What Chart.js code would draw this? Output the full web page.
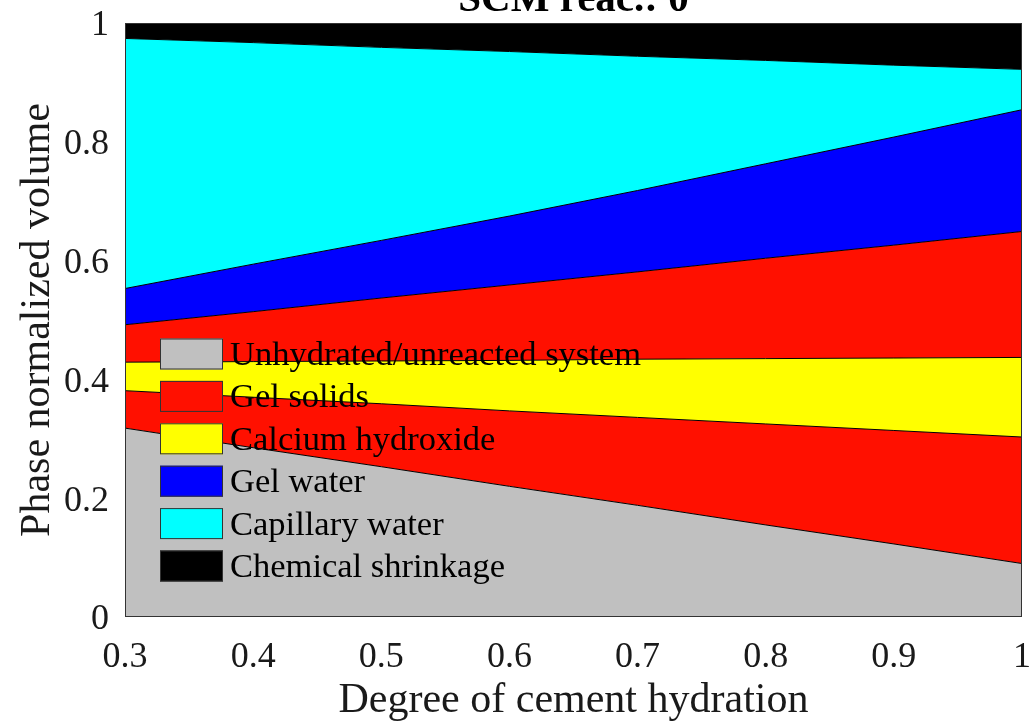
<!DOCTYPE html>
<html><head><meta charset="utf-8">
<script src="https://cdn.jsdelivr.net/npm/chart.js@4.4.1/dist/chart.umd.min.js"></script>
<style>html,body{margin:0;padding:0;background:#fff;overflow:hidden}canvas{display:block}</style>
</head><body>
<canvas id="c" width="1036" height="722"></canvas>
<script>
// ---- data (layer thickness, stacked) ----
const hydration = [0.3, 0.4, 0.5, 0.6, 0.7, 0.8, 0.9, 1.0];
const unhydrated        = [0.318, 0.285, 0.253, 0.220, 0.188, 0.155, 0.123, 0.090];
const gelSolidsInner    = [0.063, 0.085, 0.106, 0.127, 0.148, 0.170, 0.191, 0.213];
const calciumHydroxide  = [0.048, 0.060, 0.072, 0.085, 0.098, 0.110, 0.122, 0.134];
const gelSolidsOuter    = [0.063, 0.084, 0.106, 0.127, 0.147, 0.169, 0.190, 0.212];
const gelWater          = [0.061, 0.080, 0.097, 0.116, 0.137, 0.159, 0.182, 0.205];
const capillaryWater    = [0.421, 0.373, 0.325, 0.277, 0.226, 0.174, 0.121, 0.068];
const chemicalShrinkage = [0.026, 0.033, 0.041, 0.048, 0.056, 0.063, 0.071, 0.078];
const xTickValues = [0.3, 0.4, 0.5, 0.6, 0.7, 0.8, 0.9, 1];
const yTickValues = [0, 0.2, 0.4, 0.6, 0.8, 1];
const legendLabels = ['Unhydrated/unreacted system', 'Gel solids', 'Calcium hydroxide', 'Gel water', 'Capillary water', 'Chemical shrinkage'];
const titleText = 'SCM reac.: 0';
const xTitle = 'Degree of cement hydration';
const yTitle = 'Phase normalized volume';

// ---- styles ----
const FONT = '"Liberation Serif", "Times New Roman", serif';
const layers = [
  { label: 'Unhydrated/unreacted system', values: unhydrated, color: '#c0c0c0' },
  { label: 'Gel solids', values: gelSolidsInner, color: '#ff1000' },
  { label: 'Calcium hydroxide', values: calciumHydroxide, color: '#ffff00' },
  { label: 'Gel solids', values: gelSolidsOuter, color: '#ff1000' },
  { label: 'Gel water', values: gelWater, color: '#0000ff' },
  { label: 'Capillary water', values: capillaryWater, color: '#00ffff' },
  { label: 'Chemical shrinkage', values: chemicalShrinkage, color: '#000000' }
];
const legendColors = { 'Unhydrated/unreacted system': '#c0c0c0', 'Gel solids': '#ff1000', 'Calcium hydroxide': '#ffff00', 'Gel water': '#0000ff', 'Capillary water': '#00ffff', 'Chemical shrinkage': '#000000' };

const datasets = layers.map((l, i) => ({
  label: l.label,
  data: hydration.map((x, j) => ({ x: x, y: l.values[j] })),
  fill: i === 0 ? 'origin' : '-1',
  backgroundColor: l.color,
  borderColor: '#000',
  borderWidth: 1,
  pointRadius: 0,
  tension: 0
}));

const fmt = v => (Math.abs(v - Math.round(v)) < 1e-9 ? String(Math.round(v)) : v.toFixed(1));

const overlay = {
  id: 'overlay',
  afterDatasetsDraw(chart) {
    const ctx = chart.ctx, a = chart.chartArea;
    ctx.save();
    ctx.strokeStyle = '#333';
    ctx.lineWidth = 1;
    ctx.strokeRect(a.left + 0.5, a.top + 0.5, a.right - a.left - 1, a.bottom - a.top - 1);
    const x0 = a.left + 35, sw = 63, sh = 31, step = 42.4, yc0 = a.top + 331;
    ctx.font = '34.5px ' + FONT;
    ctx.textBaseline = 'middle';
    ctx.textAlign = 'left';
    legendLabels.forEach((lab, i) => {
      const yc = yc0 + i * step;
      ctx.fillStyle = legendColors[lab];
      ctx.fillRect(x0, yc - sh / 2, sw, sh);
      ctx.strokeStyle = '#333';
      ctx.strokeRect(x0 + 0.5, yc - sh / 2 + 0.5, sw - 1, sh - 1);
      ctx.fillStyle = '#000';
      ctx.fillText(lab, x0 + sw + 7, yc + 2);
    });
    ctx.font = 'bold 41px ' + FONT;
    ctx.textAlign = 'center';
    ctx.textBaseline = 'alphabetic';
    ctx.fillStyle = '#000';
    ctx.fillText(titleText, (a.left + a.right) / 2, 11);
    ctx.restore();
  }
};

new Chart(document.getElementById('c'), {
  type: 'line',
  data: { datasets },
  options: {
    responsive: false,
    animation: false,
    layout: { padding: { top: 23, right: 14, left: 0, bottom: 0 } },
    plugins: { legend: { display: false }, tooltip: { enabled: false }, title: { display: false } },
    scales: {
      x: {
        type: 'linear', min: 0.3, max: 1,
        afterBuildTicks: s => { s.ticks = xTickValues.map(v => ({ value: v })); },
        afterFit: s => { s.height = 105; s.paddingLeft = 0; s.paddingRight = 0; },
        grid: { display: false, drawTicks: false },
        border: { display: false },
        ticks: { color: '#1a1a1a', font: { family: FONT, size: 36 }, padding: 19, maxRotation: 0, callback: v => fmt(v) },
        title: { display: true, text: xTitle, color: '#1a1a1a', font: { family: FONT, size: 42 }, padding: { top: 0, bottom: -4 } }
      },
      y: {
        stacked: true, min: 0, max: 1,
        afterBuildTicks: s => { s.ticks = yTickValues.map(v => ({ value: v })); },
        afterFit: s => { s.width = 125; s.paddingTop = 0; s.paddingBottom = 0; },
        grid: { display: false, drawTicks: false },
        border: { display: false },
        ticks: { color: '#1a1a1a', font: { family: FONT, size: 36 }, padding: 16, labelOffset: 3, callback: v => fmt(v) },
        title: { display: true, text: yTitle, color: '#1a1a1a', font: { family: FONT, size: 42 }, padding: { top: 13, bottom: 0 } }
      }
    }
  },
  plugins: [overlay]
});
</script>
</body></html>
